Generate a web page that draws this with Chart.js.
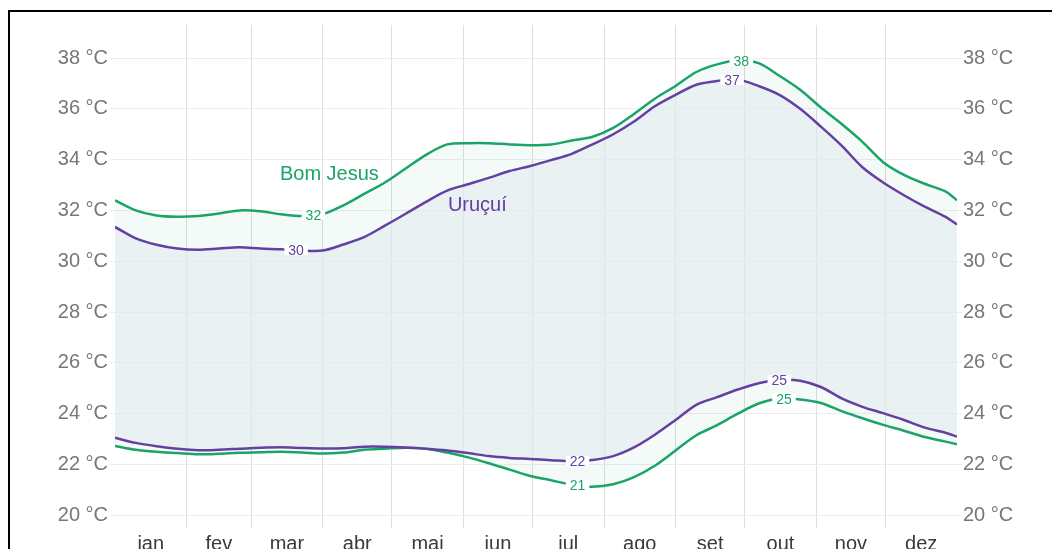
<!DOCTYPE html>
<html>
<head>
<meta charset="utf-8">
<script src="https://cdn.jsdelivr.net/npm/chart.js@4/dist/chart.umd.min.js"></script>
<style>
  html, body { margin: 0; padding: 0; background: #fff; }
  #wrap { position: relative; width: 1052px; height: 549px; overflow: hidden; }
  #frame { position: absolute; left: 8px; top: 10px; right: -10px; bottom: -10px;
           border-top: 2px solid #000; border-left: 2px solid #000; pointer-events: none; }
  canvas { position: absolute; left: 0; top: 0; }
</style>
</head>
<body>
<div id="wrap">
  <canvas id="chart" width="1052" height="549"></canvas>
  <div id="frame"></div>
</div>
<script>
'use strict';

// day of year for each sample
const days = [0, 9, 18, 27, 36, 45, 54, 63, 72, 81, 90, 99, 108, 117, 126, 135, 144, 153, 162, 171, 180,
  189, 198, 207, 216, 225, 234, 243, 252, 261, 270, 279, 288, 297, 306, 315, 324, 333, 342, 351, 360, 365];

const bomJesusHigh = [32.4, 32.0, 31.8, 31.75, 31.78, 31.88, 32.0, 31.97, 31.85, 31.78, 31.85, 32.2, 32.65,
  33.1, 33.65, 34.2, 34.6, 34.65, 34.65, 34.6, 34.57, 34.6, 34.75, 34.9, 35.25, 35.8, 36.4, 36.9, 37.45,
  37.75, 37.9, 37.8, 37.3, 36.75, 36.05, 35.4, 34.7, 33.9, 33.4, 33.05, 32.75, 32.4];
const bomJesusLow = [22.73, 22.58, 22.5, 22.45, 22.4, 22.42, 22.46, 22.48, 22.5, 22.47, 22.43, 22.47, 22.58,
  22.62, 22.66, 22.62, 22.47, 22.28, 22.05, 21.8, 21.55, 21.38, 21.2, 21.12, 21.22, 21.5, 21.95, 22.55,
  23.15, 23.55, 24.0, 24.4, 24.6, 24.56, 24.42, 24.1, 23.82, 23.56, 23.33, 23.08, 22.9, 22.8];
const urucuiHigh = [31.35, 30.9, 30.65, 30.5, 30.45, 30.5, 30.55, 30.5, 30.47, 30.42, 30.42, 30.66, 30.95,
  31.4, 31.87, 32.35, 32.78, 33.03, 33.28, 33.55, 33.75, 33.98, 34.23, 34.6, 35.0, 35.5, 36.1, 36.55,
  36.95, 37.1, 37.15, 36.9, 36.55, 36.0, 35.3, 34.55, 33.7, 33.1, 32.6, 32.15, 31.75, 31.45];
const urucuiLow = [23.05, 22.85, 22.72, 22.62, 22.56, 22.58, 22.62, 22.66, 22.68, 22.65, 22.63, 22.64, 22.7,
  22.7, 22.67, 22.62, 22.55, 22.45, 22.33, 22.26, 22.22, 22.17, 22.13, 22.18, 22.33, 22.67, 23.17, 23.75,
  24.35, 24.65, 24.95, 25.2, 25.33, 25.3, 25.05, 24.6, 24.27, 24.02, 23.75, 23.45, 23.25, 23.1];

const monthStarts = [0, 31, 59, 90, 120, 151, 181, 212, 243, 273, 304, 334, 365];
const monthNames = ['jan', 'fev', 'mar', 'abr', 'mai', 'jun', 'jul', 'ago', 'set', 'out', 'nov', 'dez'];
const yTicks = [20, 22, 24, 26, 28, 30, 32, 34, 36, 38];

const GREEN = '#1ba468';
const PURPLE = '#6440a0';
const FONT = "'Liberation Sans', Arial, sans-serif";

// labelled extremes: which series, at which day
const extremeLabels = [
  { series: bomJesusHigh, day: 86, color: GREEN },
  { series: urucuiHigh, day: 78.5, color: PURPLE },
  { series: bomJesusHigh, day: 271.5, color: GREEN },
  { series: urucuiHigh, day: 267.5, color: PURPLE },
  { series: urucuiLow, day: 200.5, color: PURPLE },
  { series: bomJesusLow, day: 200.5, color: GREEN },
  { series: urucuiLow, day: 288, color: PURPLE },
  { series: bomJesusLow, day: 290, color: GREEN }
];
const seriesNames = [
  { text: 'Bom Jesus', day: 71.5, temp: 33.4, color: GREEN },
  { text: 'Uruçuí', day: 144.3, temp: 32.2, color: PURPLE }
];

const midMonths = monthNames.map((m, i) => (monthStarts[i] + monthStarts[i + 1]) / 2);
const xTickValues = monthStarts.slice(1, 12).concat(midMonths).sort((a, b) => a - b);

function valueAt(series, day) {
  for (let i = 0; i < days.length - 1; i++) {
    if (day >= days[i] && day <= days[i + 1]) {
      const t = (day - days[i]) / (days[i + 1] - days[i]);
      return series[i] + (series[i + 1] - series[i]) * t;
    }
  }
  return series[series.length - 1];
}

const toPoints = arr => arr.map((v, i) => ({ x: days[i], y: v }));

const labelPlugin = {
  id: 'labels',
  afterDatasetsDraw(chart) {
    const ctx = chart.ctx;
    const xs = chart.scales.x, ys = chart.scales.y;
    ctx.save();
    ctx.textAlign = 'center';
    ctx.textBaseline = 'middle';
    ctx.font = '14px ' + FONT;
    extremeLabels.forEach(l => {
      const v = valueAt(l.series, l.day);
      const txt = String(Math.round(v));
      const px = xs.getPixelForValue(l.day);
      const py = ys.getPixelForValue(v);
      const w = ctx.measureText(txt).width + 8;
      ctx.fillStyle = '#fff';
      ctx.fillRect(px - w / 2, py - 5, w, 10);
      ctx.fillStyle = l.color;
      ctx.fillText(txt, px, py + 1);
    });
    ctx.font = '20px ' + FONT;
    ctx.textAlign = 'left';
    seriesNames.forEach(s => {
      ctx.fillStyle = s.color;
      ctx.fillText(s.text, xs.getPixelForValue(s.day), ys.getPixelForValue(s.temp));
    });
    ctx.restore();
  }
};

const yAxisBase = {
  type: 'linear',
  min: 19.5,
  max: 39.3,
  afterBuildTicks: s => { s.ticks = yTicks.map(v => ({ value: v })); },
  border: { display: false },
  ticks: {
    color: '#777',
    font: { size: 20, family: FONT },
    callback: v => v + ' °C'
  }
};

new Chart(document.getElementById('chart').getContext('2d'), {
  type: 'line',
  data: {
    datasets: [
      {
        label: 'Uruçuí mín',
        data: toPoints(urucuiLow),
        borderColor: PURPLE,
        borderWidth: 2.5,
        pointRadius: 0,
        tension: 0.3,
        fill: false
      },
      {
        label: 'Uruçuí máx',
        data: toPoints(urucuiHigh),
        borderColor: PURPLE,
        borderWidth: 2.5,
        pointRadius: 0,
        tension: 0.3,
        fill: { target: '-1' },
        backgroundColor: 'rgba(229,237,241,0.65)'
      },
      {
        label: 'Bom Jesus mín',
        data: toPoints(bomJesusLow),
        borderColor: GREEN,
        borderWidth: 2.5,
        pointRadius: 0,
        tension: 0.3,
        fill: false
      },
      {
        label: 'Bom Jesus máx',
        data: toPoints(bomJesusHigh),
        borderColor: GREEN,
        borderWidth: 2.5,
        pointRadius: 0,
        tension: 0.3,
        fill: { target: '-1' },
        backgroundColor: 'rgba(20,160,100,0.05)'
      }
    ]
  },
  options: {
    responsive: false,
    animation: false,
    layout: { padding: { top: 25, left: 0, right: 0, bottom: 0 } },
    plugins: {
      legend: { display: false },
      tooltip: { enabled: false }
    },
    scales: {
      x: {
        type: 'linear',
        min: 0,
        max: 365,
        afterBuildTicks: s => { s.ticks = xTickValues.map(v => ({ value: v })); },
        afterFit: s => { s.height = 21; },
        border: { display: false },
        grid: {
          drawTicks: false,
          color: c => (c.tick && monthStarts.includes(c.tick.value)) ? '#dedede' : 'rgba(0,0,0,0)'
        },
        ticks: {
          autoSkip: false,
          maxRotation: 0,
          padding: 4,
          color: '#3a3a3a',
          font: { size: 20, family: FONT },
          callback: v => {
            const i = midMonths.indexOf(v);
            return i >= 0 ? monthNames[i] : '';
          }
        }
      },
      y: Object.assign({}, yAxisBase, {
        position: 'left',
        afterFit: s => { s.width = 115; },
        grid: { color: '#ececec', tickLength: 5 },
        ticks: Object.assign({}, yAxisBase.ticks, { padding: 2 })
      }),
      y2: Object.assign({}, yAxisBase, {
        position: 'right',
        afterFit: s => { s.width = 95; },
        grid: { color: '#ececec', tickLength: 5, drawOnChartArea: false },
        ticks: Object.assign({}, yAxisBase.ticks, { padding: 1 })
      })
    }
  },
  plugins: [labelPlugin]
});
</script>
</body>
</html>
